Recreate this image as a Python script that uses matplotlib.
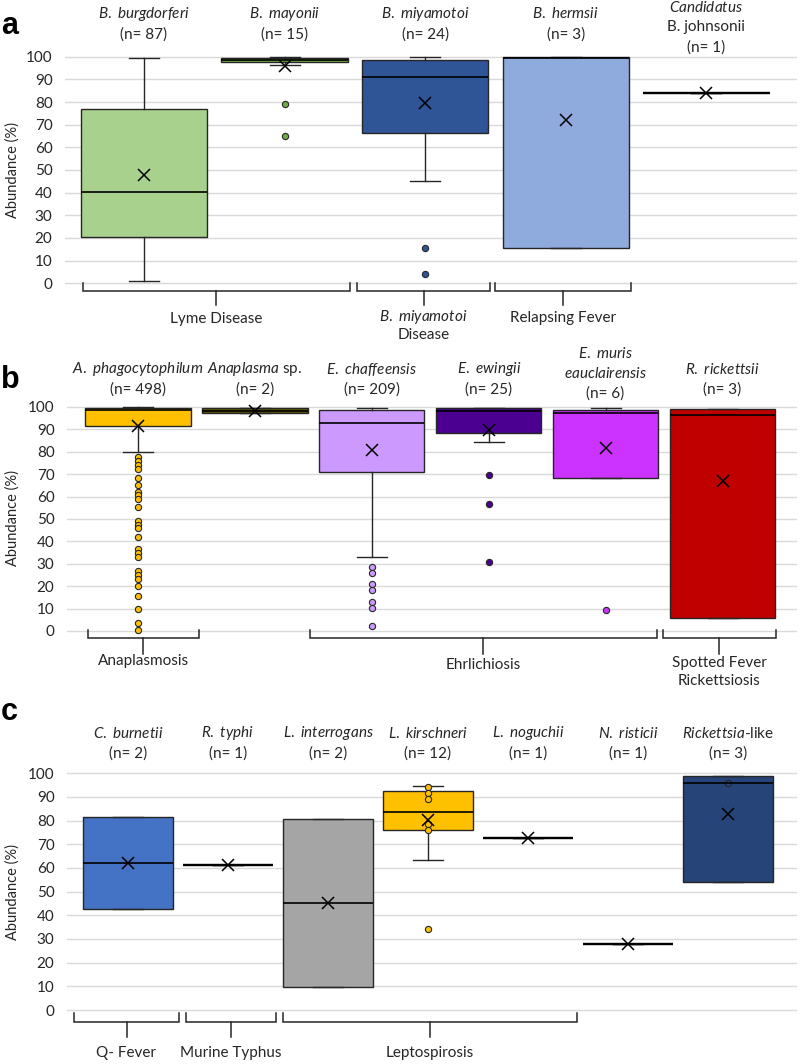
import matplotlib
matplotlib.use('Agg')
import matplotlib.pyplot as plt
from matplotlib.transforms import blended_transform_factory

plt.rcParams['font.family'] = ['Lato', 'DejaVu Sans']
plt.rcParams['mathtext.fontset'] = 'custom'
plt.rcParams['mathtext.rm'] = 'Lato'
plt.rcParams['mathtext.it'] = 'Lato:italic'

# ---------------- data ----------------
# panel a
a_species = ['$\\it{B.\\ burgdorferi}$', '$\\it{B.\\ mayonii}$', '$\\it{B.\\ miyamotoi}$',
             '$\\it{B.\\ hermsii}$', '$\\it{Candidatus}$\nB. johnsonii']
a_n = [87, 15, 24, 3, 1]
a_q1 = [20.3, 97.5, 66.3, 15.4, 83.8]
a_med = [40.1, 98.5, 91.0, 99.6, 83.8]
a_q3 = [76.9, 99.3, 98.4, 100.0, 83.8]
a_lo = [1.1, 96.3, 45.0, 15.4, 83.8]
a_hi = [99.5, 100.0, 100.0, 100.0, 83.8]
a_mean = [48.0, 96.0, 79.4, 72.0, 83.8]
a_fliers = [[], [79.2, 65.1], [15.4, 4.0], [], []]
a_colors = ['#a9d18e', '#70ad47', '#2f5597', '#8faadc', '#ffffff']
a_groups = ['Lyme Disease', '$\\it{B.\\ miyamotoi}$\nDisease', 'Relapsing Fever']

# panel b
b_species = ['$\\it{A.\\ phagocytophilum}$', '$\\it{Anaplasma}$ sp.', '$\\it{E.\\ chaffeensis}$',
             '$\\it{E.\\ ewingii}$', '$\\it{E.\\ muris}$\n$\\it{eauclairensis}$', '$\\it{R.\\ rickettsii}$']
b_n = [498, 2, 209, 25, 6, 3]
b_q1 = [91.7, 97.2, 70.8, 88.5, 68.4, 5.7]
b_med = [98.7, 98.2, 92.7, 98.2, 97.2, 96.3]
b_q3 = [99.4, 99.4, 98.7, 99.7, 98.7, 99.0]
b_lo = [80.0, 97.2, 32.9, 84.2, 68.4, 5.7]
b_hi = [100.0, 99.4, 99.6, 99.7, 99.5, 99.0]
b_mean = [91.5, 98.2, 80.8, 89.7, 81.6, 67.1]
b_fliers = [[77.5, 75.7, 74.0, 72.5, 68.5, 65.4, 62.2, 60.7, 58.8, 55.5, 49.3, 47.5, 46.1,
             41.8, 36.6, 34.8, 33.0, 26.9, 24.9, 23.1, 19.9, 15.8, 10.0, 3.7, 0.4],
            [], [28.4, 26.0, 20.8, 18.3, 12.9, 10.4, 2.4], [69.8, 56.5, 30.8], [9.4], []]
b_colors = ['#ffc000', '#5b5800', '#cc99ff', '#4b0091', '#cc33ff', '#c00000']
b_groups = ['Anaplasmosis', 'Ehrlichiosis', 'Spotted Fever\nRickettsiosis']

# panel c
c_species = ['$\\it{C.\\ burnetii}$', '$\\it{R.\\ typhi}$', '$\\it{L.\\ interrogans}$',
             '$\\it{L.\\ kirschneri}$', '$\\it{L.\\ noguchii}$', '$\\it{N.\\ risticii}$',
             '$\\it{Rickettsia}$-like']
c_n = [2, 1, 2, 12, 1, 1, 3]
c_q1 = [42.8, 61.1, 9.9, 76.0, 72.7, 27.9, 53.9]
c_med = [62.2, 61.1, 45.3, 83.8, 72.7, 27.9, 96.0]
c_q3 = [81.5, 61.1, 80.6, 92.7, 72.7, 27.9, 99.0]
c_lo = [42.8, 61.1, 9.9, 63.4, 72.7, 27.9, 53.9]
c_hi = [81.5, 61.1, 80.6, 94.8, 72.7, 27.9, 99.0]
c_mean = [62.0, 61.1, 45.3, 80.3, 72.7, 27.9, 82.8]
c_fliers = [[], [], [], [94.4, 91.5, 89.2, 78.5, 76.0, 34.1], [], [], [96.0]]
c_colors = ['#4472c4', '#ffffff', '#a5a5a5', '#ffc000', '#ffffff', '#ffffff', '#264478']
c_groups = ['Q- Fever', 'Murine Typhus', 'Leptospirosis']

# ---------------- layout (pixels) ----------------
W, H = 800, 1064
fig = plt.figure(figsize=(W / 100, H / 100), dpi=100)
TXT = '#262626'
EDGE = '#262626'
FS_HEAD = 11
FS_LAB = 11
FS_TICK = 11

panels = [
    dict(letter='a', letter_y=26, left=65, right=797, y100=56.7, y0=283.3,
         c0=144, sp=140.6, species=a_species, n=a_n, q1=a_q1, med=a_med, q3=a_q3,
         lo=a_lo, hi=a_hi, mean=a_mean, fliers=a_fliers, colors=a_colors,
         head_top2=14, head_top3=7, groups=a_groups,
         spans=[(-0.434, 1.465), (1.515, 2.461), (2.496, 3.464)],
         br_y=291, br_up=283, br_down=305, lab_y=[319, 317, 318], ylab_y=170),
    dict(letter='b', letter_y=380, left=67, right=797, y100=407, y0=631,
         c0=138, sp=116.9, species=b_species, n=b_n, q1=b_q1, med=b_med, q3=b_q3,
         lo=b_lo, hi=b_hi, mean=b_mean, fliers=b_fliers, colors=b_colors,
         head_top2=369, head_top3=353, groups=b_groups,
         spans=[(-0.428, 0.522), (1.471, 4.44), (4.49, 5.457)],
         br_y=638, br_up=630, br_down=654, lab_y=[661, 665, 663], ylab_y=518),
    dict(letter='c', letter_y=712, left=67, right=797, y100=773.3, y0=1010,
         c0=128, sp=100.0, species=c_species, n=c_n, q1=c_q1, med=c_med, q3=c_q3,
         lo=c_lo, hi=c_hi, mean=c_mean, fliers=c_fliers, colors=c_colors,
         head_top2=733, head_top3=713, groups=c_groups,
         spans=[(-0.54, 0.51), (0.58, 1.48), (1.55, 4.49)],
         br_y=1022, br_up=1013, br_down=1037, lab_y=[1053, 1053, 1053], ylab_y=892),
]

LINE = 20.5  # header line spacing px
pad = 2.0

for P in panels:
    k = (P['y0'] - P['y100']) / 100.0
    top = P['y100'] - pad * k
    bot = P['y0'] + pad * k
    ax = fig.add_axes([P['left'] / W, 1 - bot / H, (P['right'] - P['left']) / W, (bot - top) / H])
    ncat = len(P['n'])

    stats = []
    for i in range(ncat):
        stats.append(dict(med=P['med'][i], q1=P['q1'][i], q3=P['q3'][i],
                          whislo=P['lo'][i], whishi=P['hi'][i], mean=P['mean'][i],
                          fliers=P['fliers'][i]))
    capw = 30.0 / P['sp']
    res = ax.bxp(stats, positions=list(range(ncat)), widths=0.9, patch_artist=True,
                 showmeans=True, showfliers=True, capwidths=capw, manage_ticks=False,
                 boxprops=dict(edgecolor=EDGE, linewidth=1.0),
                 whiskerprops=dict(color=EDGE, linewidth=1.0),
                 capprops=dict(color=EDGE, linewidth=1.0),
                 medianprops=dict(color='black', linewidth=1.2),
                 meanprops=dict(marker='x', markeredgecolor='black', markersize=8,
                                markeredgewidth=1.1),
                 flierprops=dict(marker='o', markersize=4.5, markeredgecolor=EDGE,
                                 markeredgewidth=0.8, linestyle='none'))
    for i, (bx, fl) in enumerate(zip(res['boxes'], res['fliers'])):
        bx.set_facecolor(P['colors'][i])
        fl.set_markerfacecolor(P['colors'][i])
        if P['q1'][i] == P['q3'][i]:
            bx.set_linewidth(1.6)
            res['medians'][i].set_linewidth(1.6)

    ax.set_ylim(-pad, 100 + pad)
    ax.set_xlim((P['left'] - P['c0']) / P['sp'], (P['right'] - P['c0']) / P['sp'])
    for s in ax.spines.values():
        s.set_visible(False)
    ax.set_yticks(range(0, 101, 10))
    ax.tick_params(axis='y', length=0, pad=9, labelsize=FS_TICK, labelcolor=TXT)
    ax.set_xticks([])
    ax.grid(axis='y', color='#d9d9d9', lw=1.0)
    ax.set_axisbelow(True)

    trans = blended_transform_factory(ax.transData, fig.transFigure)
    # headers
    for i in range(ncat):
        lines = P['species'][i].split('\n') + ['(n= %d)' % P['n'][i]]
        t0 = P['head_top2'] if len(lines) == 2 else P['head_top3']
        for j, ln in enumerate(lines):
            ax.text(i, 1 - (t0 + j * LINE) / H, ln, transform=trans, ha='center',
                    va='center', fontsize=FS_HEAD, color=TXT)
    # brackets
    for g, (x0, x1) in enumerate(P['spans']):
        xm = (x0 + x1) / 2
        yb = 1 - P['br_y'] / H
        yu = 1 - P['br_up'] / H
        yd = 1 - P['br_down'] / H
        ax.plot([x0, x0, x1, x1], [yu, yb, yb, yu], transform=trans, color=EDGE,
                lw=1.1, clip_on=False, solid_joinstyle='miter')
        ax.plot([xm, xm], [yb, yd], transform=trans, color=EDGE, lw=1.1, clip_on=False)
        for j, ln in enumerate(P['groups'][g].split('\n')):
            ax.text(xm, 1 - (P['lab_y'][g] + j * 18) / H, ln, transform=trans,
                    ha='center', va='center', fontsize=FS_LAB, color=TXT)
    fig.text(13 / W, 1 - P['ylab_y'] / H, 'Abundance (%)', rotation=90, ha='center',
             va='center', fontsize=10.5, color=TXT)
    fig.text(1 / W, 1 - P['letter_y'] / H, P['letter'], ha='left', va='center',
             fontsize=22, fontweight='bold', family=['Liberation Sans', 'DejaVu Sans'],
             color='black')

fig.savefig('out.png', dpi=100)
